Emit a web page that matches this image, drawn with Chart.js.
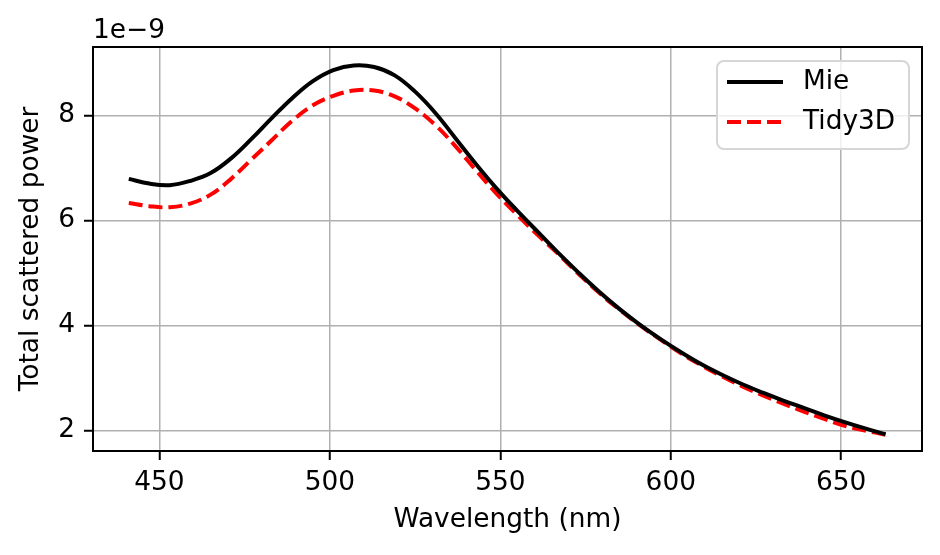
<!DOCTYPE html>
<html>
<head>
<meta charset="utf-8">
<script src="https://cdn.jsdelivr.net/npm/chart.js@4.4.0/dist/chart.umd.min.js"></script>
<style>
  html, body { margin: 0; padding: 0; background: #fff; }
  #wrap { width: 940px; height: 555px; }
</style>
</head>
<body>
<div id="wrap"><canvas id="mieChart" width="940" height="555"></canvas></div>
<script>
// wavelength in nm, power in units of 1e-9
const wavelengths = [441, 447, 453, 459, 465, 471, 477, 483, 489, 495, 501, 507, 513, 519, 525, 531, 537, 543, 549, 555, 561, 567, 573, 579, 585, 591, 597, 603, 609, 615, 621, 627, 633, 639, 645, 651, 657, 663];
const miePower = [6.79, 6.70, 6.67, 6.75, 6.90, 7.18, 7.55, 7.95, 8.33, 8.65, 8.86, 8.95, 8.92, 8.76, 8.45, 8.04, 7.55, 7.06, 6.60, 6.18, 5.78, 5.38, 5.00, 4.64, 4.31, 4.01, 3.74, 3.49, 3.26, 3.06, 2.88, 2.72, 2.57, 2.43, 2.29, 2.16, 2.04, 1.93];
const tidyPower = [6.33, 6.27, 6.25, 6.32, 6.49, 6.79, 7.16, 7.53, 7.90, 8.19, 8.37, 8.47, 8.47, 8.36, 8.13, 7.81, 7.40, 6.94, 6.50, 6.10, 5.72, 5.36, 4.98, 4.62, 4.30, 4.00, 3.73, 3.47, 3.24, 3.03, 2.84, 2.67, 2.51, 2.36, 2.22, 2.09, 2.00, 1.92];
const xTicks = [450, 500, 550, 600, 650];
const yTicks = [2, 4, 6, 8];
const offsetText = '1e\u22129';

const FONT = 'DejaVu Sans';
const FSIZE = 26.4;

const toPoints = (ys) => wavelengths.map((x, i) => ({ x: x, y: ys[i] }));

// frame, offset text and legend box like matplotlib
const mplExtras = {
  id: 'mplExtras',
  afterDatasetsDraw(chart) {
    const { ctx, chartArea: a } = chart;
    ctx.save();
    ctx.strokeStyle = '#000';
    ctx.lineWidth = 2;
    ctx.strokeRect(a.left, a.top, a.right - a.left, a.bottom - a.top);

    ctx.fillStyle = '#000';
    ctx.font = FSIZE + 'px "' + FONT + '"';
    ctx.textAlign = 'left';
    ctx.textBaseline = 'alphabetic';
    ctx.fillText(offsetText, a.left, 38);

    // legend
    const bx = 717, by = 61, bw = 192, bh = 88, r = 7;
    ctx.beginPath();
    ctx.roundRect(bx, by, bw, bh, r);
    ctx.fillStyle = 'rgba(255,255,255,0.8)';
    ctx.fill();
    ctx.strokeStyle = '#d6d6d6';
    ctx.lineWidth = 2;
    ctx.stroke();

    chart.data.datasets.forEach((ds, i) => {
      const y = 82 + i * 40;
      ctx.beginPath();
      ctx.setLineDash(ds.borderDash || []);
      ctx.strokeStyle = ds.borderColor;
      ctx.lineWidth = ds.borderWidth;
      ctx.moveTo(727, y);
      ctx.lineTo(783, y);
      ctx.stroke();
      ctx.setLineDash([]);
      ctx.fillStyle = '#000';
      ctx.textBaseline = 'middle';
      ctx.fillText(ds.label, 803, y);
    });
    ctx.restore();
  }
};

const ctx = document.getElementById('mieChart').getContext('2d');

new Chart(ctx, {
  type: 'line',
  data: {
    datasets: [
      {
        label: 'Mie',
        data: toPoints(miePower),
        borderColor: '#000000',
        borderWidth: 4,
        pointRadius: 0,
        tension: 0.4
      },
      {
        label: 'Tidy3D',
        data: toPoints(tidyPower),
        borderColor: '#ff0000',
        borderWidth: 4,
        borderDash: [14, 6],
        pointRadius: 0,
        tension: 0.4
      }
    ]
  },
  options: {
    responsive: false,
    animation: false,
    layout: { padding: { top: 47, right: 18, left: 0, bottom: 0 } },
    plugins: {
      legend: { display: false },
      tooltip: { enabled: false }
    },
    scales: {
      x: {
        type: 'linear',
        min: 430.5,
        max: 673.7,
        afterBuildTicks: (s) => { s.ticks = xTicks.map(v => ({ value: v })); },
        afterFit: (s) => { s.height = 104; },
        border: { display: false },
        grid: {
          color: '#b0b0b0',
          lineWidth: 1.5,
          drawTicks: true,
          tickLength: 9,
          tickColor: '#000',
          tickWidth: 2
        },
        ticks: {
          color: '#000',
          padding: 7,
          maxRotation: 0,
          font: { family: FONT, size: FSIZE },
          callback: (v) => String(v)
        },
        title: {
          display: true,
          text: 'Wavelength (nm)',
          color: '#000',
          font: { family: FONT, size: FSIZE },
          padding: { top: 0, bottom: 19 }
        }
      },
      y: {
        type: 'linear',
        min: 1.61,
        max: 9.30,
        afterBuildTicks: (s) => { s.ticks = yTicks.map(v => ({ value: v })); },
        afterFit: (s) => { s.width = 93; },
        border: { display: false },
        grid: {
          color: '#b0b0b0',
          lineWidth: 1.5,
          drawTicks: true,
          tickLength: 9,
          tickColor: '#000',
          tickWidth: 2
        },
        ticks: {
          color: '#000',
          padding: 9,
          font: { family: FONT, size: FSIZE },
          callback: (v) => String(v)
        },
        title: {
          display: true,
          text: 'Total scattered power',
          color: '#000',
          font: { family: FONT, size: FSIZE },
          padding: { top: 15, bottom: 0 }
        }
      }
    }
  },
  plugins: [mplExtras]
});
</script>
</body>
</html>
